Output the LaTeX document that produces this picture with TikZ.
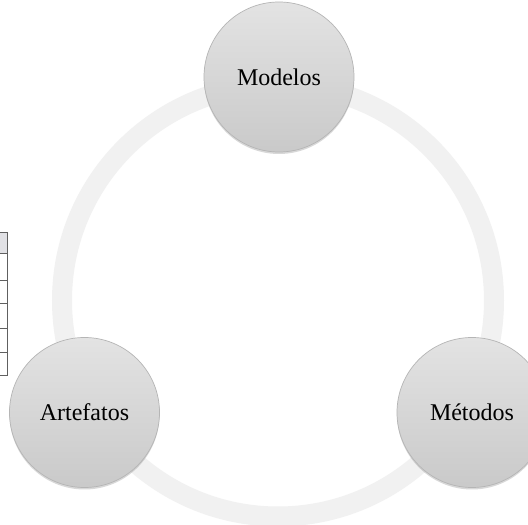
\documentclass[tikz,border=0pt]{standalone}
\usepackage{fontspec}
\setmainfont{Liberation Serif}
\usetikzlibrary{shadows}
\tikzset{
  bola/.style={circle, minimum size=150pt, inner sep=0pt,
    top color=gray!22, bottom color=gray!42, draw=gray!58, line width=0.7pt,
    drop shadow={opacity=0.3, shadow xshift=0pt, shadow yshift=-2pt},
    font=\fontsize{24}{28}\selectfont},
  anel/.style={draw=gray!11, line width=20pt},
  grade/.style={draw=gray!75!black, line width=0.8pt}
}
\begin{document}
\begin{tikzpicture}[x=1pt,y=1pt]
\clip (0,0) rectangle (528,525);
\fill[white] (0,0) rectangle (528,525);
% pedaco da tabela
\fill[blue!6!gray!22] (0,272) rectangle (7,293);
\foreach \y in {293,272,245,222,197,173,150}
  \draw[grade] (0,\y) -- (8,\y);
\draw[grade] (7,150) -- (7,293);
% ciclo
\draw[anel] (278,224.5) circle (216);
\node[bola] (mod) at (279,448) {Modelos};
\node[bola] (art) at (84.5,112.5) {Artefatos};
\node[bola] (met) at (472,112.5) {Métodos};
\end{tikzpicture}
\end{document}
